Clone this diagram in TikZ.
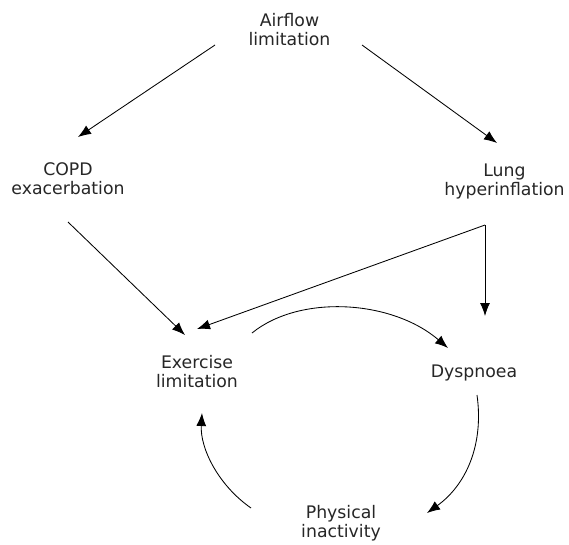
\documentclass[tikz,border=0pt]{standalone}
\usepackage{fontspec}
\setmainfont{DejaVu Sans}
\usetikzlibrary{arrows.meta}

\tikzset{
	lbl/.style={align=center, anchor=base, text=black!85, font=\fontsize{17.3}{19}\selectfont, inner sep=0pt},
	arr/.style={-{Latex[length=13pt,width=10pt]}, line width=0.85pt}
}

\begin{document}
\begin{tikzpicture}[x=1pt, y=-1pt]
	\useasboundingbox (0,0) rectangle (569,544);

	\node[lbl] (airflow) at (289.5,45) {Airflow\\limitation};
	\node[lbl] (copd) at (68,194) {COPD\\exacerbation};
	\node[lbl] (lung) at (504.5,195) {Lung\\hyperinflation};
	\node[lbl] (exer) at (197,387) {Exercise\\limitation};
	\node[lbl] (dysp) at (474,377) {Dyspnoea};
	\node[lbl] (phys) at (341,537) {Physical\\inactivity};

	\coordinate (split) at ([shift={(-19.5,30)}]lung.base);

	\draw[arr] ([shift={(-74.5,0)}]airflow.base) -- ([shift={(10,-57)}]copd.base);
	\draw[arr] ([shift={(72.5,0)}]airflow.base) -- ([shift={(-7.5,-52)}]lung.base);
	\draw[arr] ([shift={(0,28)}]copd.base) -- ([shift={(-12,-52)}]exer.base);
	\draw[arr] (split) -- ([shift={(0,-58)}]exer.base);
	\draw[arr] (split) -- ([shift={(11,-61)}]dysp.base);

	\draw[arr] ([shift={(55,-54)}]exer.base) .. controls (300,294) and (392,300) .. ([shift={(-26,-29)}]dysp.base);
	\draw[arr] ([shift={(3,18)}]dysp.base) .. controls (484,445) and (466,485) .. ([shift={(86,-24)}]phys.base);
	\draw[arr] ([shift={(-90,-29)}]phys.base) .. controls (218,485) and (200,448) .. ([shift={(5,26)}]exer.base);
\end{tikzpicture}
\end{document}
